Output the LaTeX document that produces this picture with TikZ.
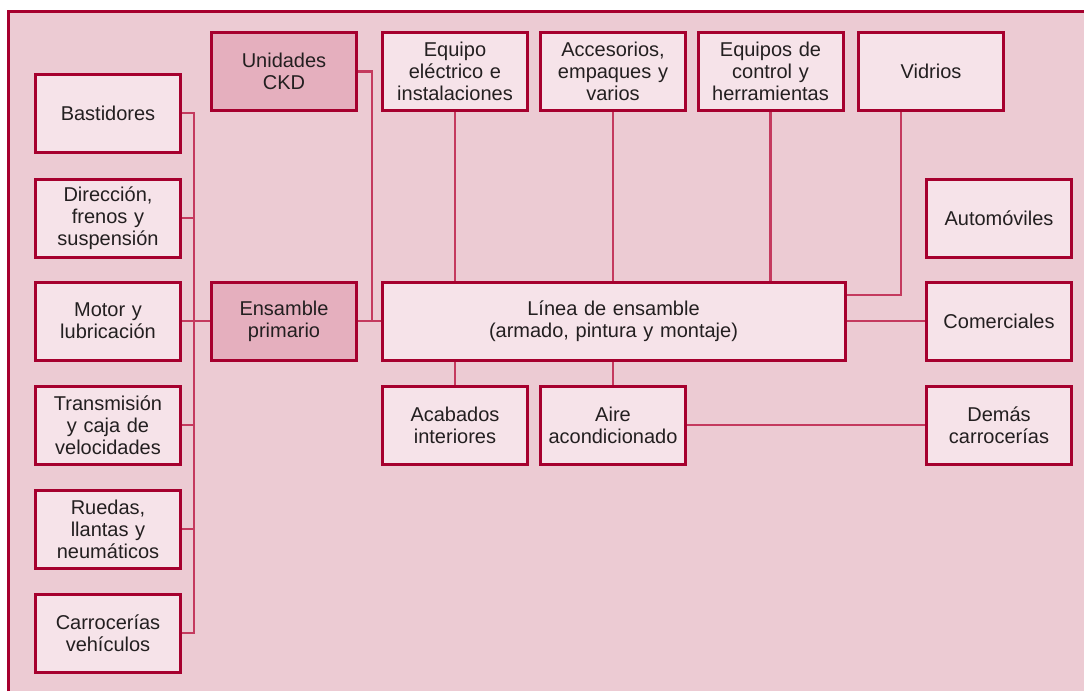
\documentclass[tikz,border=0pt]{standalone}
\usepackage{fontspec}
\setmainfont{Liberation Sans}
\definecolor{bgpink}{RGB}{236,203,211}
\definecolor{boxpink}{RGB}{246,227,233}
\definecolor{darkpink}{RGB}{229,175,190}
\definecolor{framered}{RGB}{166,0,46}
\definecolor{linkred}{RGB}{196,58,94}
\definecolor{inkgray}{RGB}{35,31,32}
\begin{document}
\begin{tikzpicture}
        [
          x=1pt, y=-1pt,
          box/.style={draw=framered, line width=3pt, fill=boxpink, text=inkgray,
            minimum width=145pt, minimum height=78pt, inner sep=0pt,
            text width=138pt, align=center, font=\fontsize{20}{22}\selectfont},
          darkbox/.style={box, fill=darkpink},
          link/.style={linkred, line width=2.4pt}
        ]
        \useasboundingbox (0,0) rectangle (1084,691);
        % frame
        \fill[bgpink] (8,11) rectangle (1084,691);
        \draw[framered, line width=3pt] (8,691) -- (8,11) -- (1084,11);
        % parts
        \foreach \n/\y/\t in {bast/113/Bastidores,
            dir/218/{Dirección,\\frenos y\\suspensión},
            motor/321/{Motor y\\lubricación},
            trans/425/{Transmisión\\y caja de\\velocidades},
            ruedas/529/{Ruedas,\\llantas y\\neumáticos},
            carro/633/{Carrocerías\\vehículos}} {
            \node [box] (\n) at (108,\y) {\t};
        }
        \node [darkbox] (ckd) at (284,71.5) {Unidades\\CKD};
        \node [darkbox] (prim) at (284,321) {Ensamble\\primario};
        % supplies
        \node [box] (elec) at (455,71.5) {Equipo\\eléctrico e\\instalaciones};
        \node [box] (acces) at (613,71.5) {Accesorios,\\empaques y\\varios};
        \node [box] (ctrl) at (770.5,71.5) {Equipos de\\control y\\herramientas};
        \node [box] (vidr) at (931,71.5) {Vidrios};
        \node [box, minimum width=463pt, text width=440pt] (linea) at (613.5,321)
            {Línea de ensamble\\(armado, pintura y montaje)};
        \node [box] (acab) at (455,425) {Acabados\\interiores};
        \node [box] (aire) at (613,425) {Aire\\acondicionado};
        % products
        \node [box] (auto) at (999,218) {Automóviles};
        \node [box] (comer) at (999,321) {Comerciales};
        \node [box] (demas) at (999,425) {Demás\\carrocerías};
        % edges
        \draw [link] (bast.east) -- ++(12,0) |- (carro.east);
        \foreach \n in {dir,trans,ruedas} {
            \draw [link] (\n.east) -- ++(12,0);
        }
        \draw [link] (motor.east) -- (prim.west);
        \draw [link] (ckd.east) -- ++(14,0) |- (linea.west);
        \draw [link] (prim.east) -- (linea.west);
        \foreach \n in {elec,acces,ctrl} {
            \draw [link] (\n.south) -- (\n.south |- linea.north);
        }
        \draw [link] ([xshift=-30pt]vidr.south) |- ([yshift=26pt]linea.east);
        \draw [link] (linea.east) -- (comer.west);
        \foreach \n in {acab,aire} {
            \draw [link] (\n.north) -- (\n.north |- linea.south);
        }
        \draw [link] (aire.east) -- (demas.west);
      \end{tikzpicture}
\end{document}
